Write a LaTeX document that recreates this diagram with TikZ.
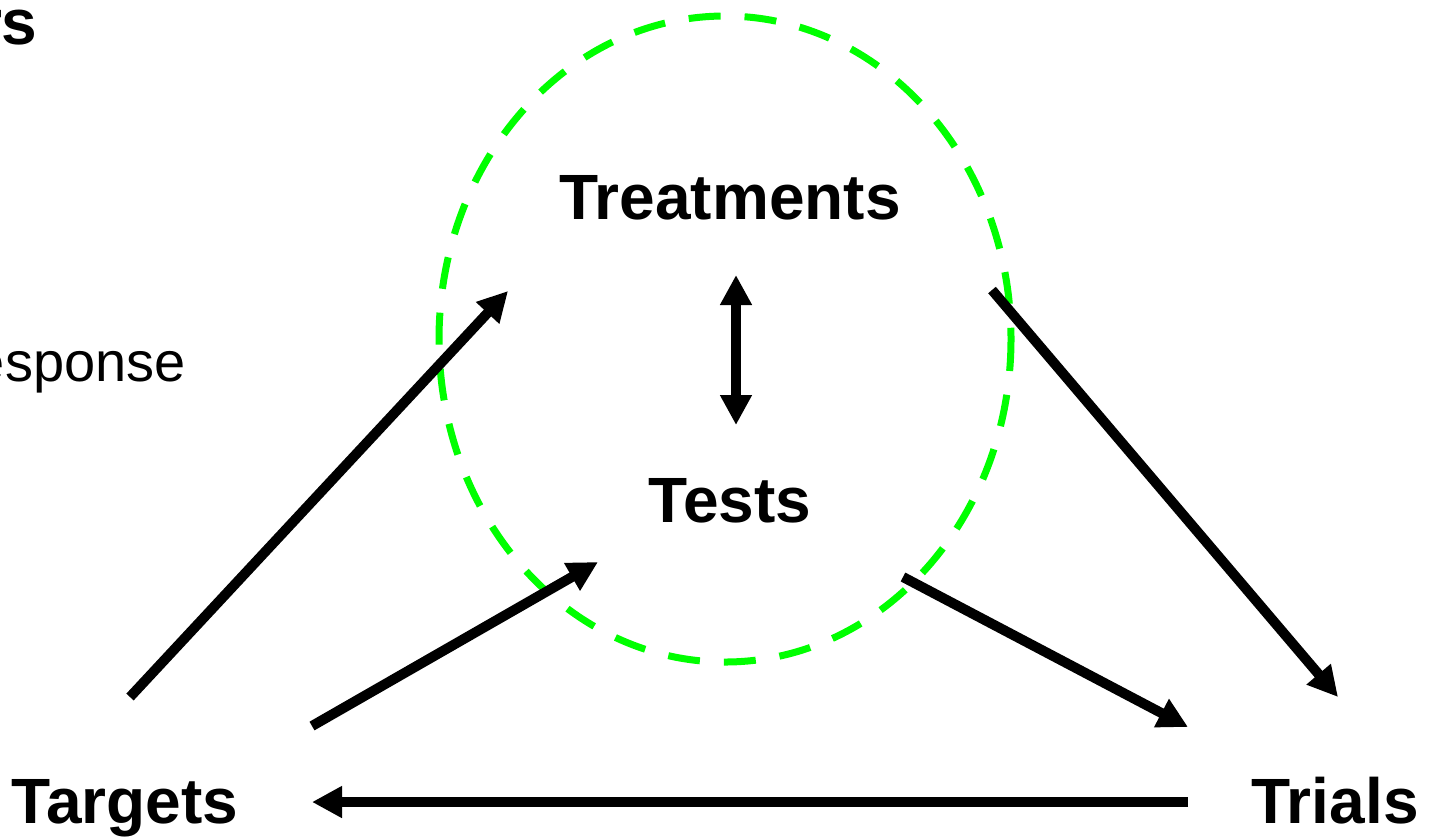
\documentclass[tikz,border=0pt]{standalone}
\usepackage{fontspec}
\setmainfont{Liberation Sans}
\usetikzlibrary{arrows.meta}
\definecolor{CGreen}{HTML}{00FF00}

\begin{document}
\begin{tikzpicture}[x=0.5pt,y=-0.5pt,
    lbl/.style={inner sep=0pt,font=\fontsize{32}{38}\selectfont\bfseries},
    flow/.style={line width=5pt,-{Triangle[length=15pt,width=15pt]}}]
        \useasboundingbox (0,0) rectangle (1433,837);
        \draw[CGreen,line width=3.5pt,dash pattern=on 16pt off 12pt] (725,339) ellipse [x radius=286,y radius=323];
        \node[lbl,anchor=base east] (top) at (38,44) {rs};
        \node[inner sep=0pt,font=\fontsize{28}{34}\selectfont,anchor=base east] (resp) at (186,381) {esponse};
        \node[lbl,anchor=base] (treat) at (730,219) {Treatments};
        \node[lbl,anchor=base] (tests) at (730,522) {Tests};
        \node[lbl,anchor=base] (targets) at (125,823) {Targets};
        \node[lbl,anchor=base] (trials) at (1335,823) {Trials};
        \coordinate (tr in) at (508,291);   \coordinate (tg out1) at (130,697);
        \coordinate (te in) at (598,562);   \coordinate (tg out2) at (312,726);
        \coordinate (tr out) at (992,290);  \coordinate (tl in1) at (1338,697);
        \coordinate (te out) at (903,577);  \coordinate (tl in2) at (1188,727);
        \coordinate (tl out) at (1188,802); \coordinate (tg in) at (312,802);
        \coordinate (tr s) at (736,275);    \coordinate (te s) at (736,425);
        \draw[flow] (tg out1) -- (tr in);
        \draw[flow] (tg out2) -- (te in);
        \draw[flow] (tr out) -- (tl in1);
        \draw[flow] (te out) -- (tl in2);
        \draw[flow] (tl out) -- (tg in);
        \draw[flow,{Triangle[length=15pt,width=15pt]}-{Triangle[length=15pt,width=15pt]}] (tr s) -- (te s);
        \end{tikzpicture}
\end{document}
